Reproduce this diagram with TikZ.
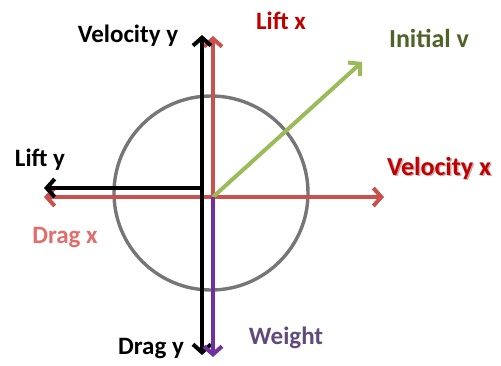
\documentclass[tikz,border=0pt]{standalone}
\usepackage{fontspec}
\setmainfont{Carlito}
\usetikzlibrary{arrows.meta}
\definecolor{vred}{RGB}{200,80,77}
\definecolor{dred}{RGB}{192,0,0}
\definecolor{lred}{RGB}{226,110,108}
\definecolor{vgreen}{RGB}{155,187,89}
\definecolor{olive}{RGB}{79,98,40}
\definecolor{vpurple}{RGB}{112,48,160}
\definecolor{tpurple}{RGB}{96,74,123}
\definecolor{cgray}{RGB}{118,118,118}
\tikzset{
  vec/.style={line width=4pt,-{Straight Barb[length=8pt,width=18pt,line width=4pt]}},
  lbl/.style={font=\bfseries\fontsize{25}{27}\selectfont,inner sep=0pt}
}
\begin{document}
\begin{tikzpicture}[x=1pt,y=-1pt]
\useasboundingbox (0,0) rectangle (501,365);
\coordinate (o) at (213,197);
\coordinate (ob) at (202,188);
\coordinate (vxt) at (384,197);
\coordinate (dxt) at (44,197);
\coordinate (lxt) at (213,36);
\coordinate (wt) at (213,357);
\coordinate (vyt) at (202,35);
\coordinate (dyt) at (202,355);
\coordinate (lyt) at (44,188);
\coordinate (ivt) at (362,62);
\node[draw=cgray,line width=3.4pt,circle,minimum size=194pt,inner sep=0pt] (c) at (211,193) {};
\draw[vec,vred] (o) -- (vxt);
\draw[vec,vred] (o) -- (dxt);
\draw[vec,vred] (o) -- (lxt);
\draw[vec,vgreen] (o) -- (ivt);
\draw[vec,black] (ob) -- (lyt);
\draw[vec,black] (ob) -- (vyt);
\draw[vec,black] (ob) -- (dyt);
\draw[vec,vpurple] (o) -- (wt);
\node[lbl] (lvy) at (128,36) {Velocity y};
\node[lbl,text=dred] (llx) at (281,21) {Lift x};
\node[lbl,text=olive,font=\bfseries\fontsize{26}{28}\selectfont] (liv) at (429,38) {Initial v};
\node[lbl,text=dred!60!black,opacity=0.35,font=\bfseries\fontsize{26}{28}\selectfont] at (440.5,169.5) {Velocity x};
\node[lbl,text=dred,font=\bfseries\fontsize{26}{28}\selectfont] (lvx) at (439,168) {Velocity x};
\node[lbl] (lly) at (40,160) {Lift y};
\node[lbl,text=lred] (ldx) at (65,238) {Drag x};
\node[lbl] (ldy) at (151,349) {Drag y};
\node[lbl,text=tpurple] (lw) at (286,338) {Weight};
\end{tikzpicture}
\end{document}
